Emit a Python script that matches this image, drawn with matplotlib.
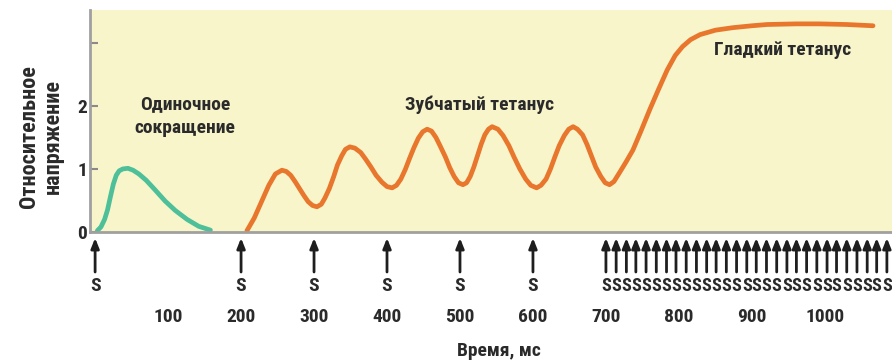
import matplotlib.pyplot as plt
from matplotlib.transforms import blended_transform_factory

# шрифт: узкий жирный, как в оригинале
plt.rcParams['font.family'] = ['Roboto Condensed', 'DejaVu Sans']
plt.rcParams['font.weight'] = 'bold'
plt.rcParams['axes.labelweight'] = 'bold'

# одиночное сокращение (зелёная кривая)
t_single = [3, 8, 13, 17, 21, 25, 29, 33, 38, 45, 52, 60, 70, 82, 96, 110, 126, 142, 158]
v_single = [0.02, 0.08, 0.20, 0.35, 0.56, 0.76, 0.90, 0.97, 1.00, 1.01, 0.98, 0.92, 0.82, 0.67, 0.49, 0.34, 0.20, 0.09, 0.03]

# зубчатый и гладкий тетанус (оранжевая кривая)
t_tet = [208, 218, 228, 238, 247, 256,
         262, 268, 274, 280, 286, 292, 298, 304,
         310, 315, 321, 327, 332, 338, 343, 349,
         356, 364, 371, 378, 385, 393, 400, 407,
         413, 419, 425, 431, 437, 443, 449, 455,
         461, 467, 473, 480, 486, 492, 498, 504,
         509, 514, 519, 524, 529, 534, 539, 544,
         552, 559, 567, 574, 582, 590, 597, 605,
         611, 618, 624, 630, 636, 643, 649, 655,
         661, 668, 674, 680, 686, 693, 699, 705,
         711, 718, 727, 737, 748, 760, 772, 784, 795, 805, 816, 829,
         850, 874, 900, 921, 960, 993, 1030, 1066]
v_tet = [0.02, 0.22, 0.48, 0.74, 0.92, 0.98,
         0.96, 0.90, 0.80, 0.69, 0.58, 0.48, 0.42, 0.40,
         0.44, 0.54, 0.69, 0.88, 1.06, 1.21, 1.31, 1.35,
         1.33, 1.26, 1.15, 1.03, 0.90, 0.79, 0.72, 0.70,
         0.74, 0.84, 0.99, 1.17, 1.34, 1.49, 1.59, 1.63,
         1.60, 1.50, 1.36, 1.19, 1.02, 0.88, 0.78, 0.75,
         0.78, 0.88, 1.03, 1.21, 1.39, 1.54, 1.63, 1.67,
         1.63, 1.53, 1.37, 1.19, 1.00, 0.84, 0.74, 0.70,
         0.74, 0.84, 1.00, 1.19, 1.37, 1.53, 1.63, 1.67,
         1.63, 1.54, 1.39, 1.21, 1.03, 0.88, 0.78, 0.75,
         0.80, 0.93, 1.10, 1.30, 1.60, 1.94, 2.26, 2.57, 2.80, 2.94, 3.05, 3.13,
         3.20, 3.24, 3.27, 3.29, 3.30, 3.30, 3.29, 3.27]

# стимулы
stim_single = [0, 200, 300, 400, 500, 600]
stim_dense = [700, 714, 728, 741, 755, 769, 783, 796, 810, 824, 838, 851, 865, 879, 893,
              906, 920, 934, 948, 961, 975, 989, 1003, 1016, 1030, 1044, 1058, 1071, 1085]

x_ticks = [100, 200, 300, 400, 500, 600, 700, 800, 900, 1000]
y_ticks = [0, 1, 2, 3]
y_labels = ['0', '1', '2', '']

txt = '#2a2a2a'
W, H = 892, 362
fig = plt.figure(figsize=(W / 100, H / 100), dpi=100)
ax = fig.add_axes([90 / W, 130 / H, 802 / W, 222 / H])
ax.set_facecolor('#F8F5CB')
ax.set_xlim(-7, 1092)
ax.set_ylim(0, 3.52)

for s in ['top', 'right']:
    ax.spines[s].set_visible(False)
for s in ['left', 'bottom']:
    ax.spines[s].set_color('#a0a0a0')
    ax.spines[s].set_linewidth(2)

ax.plot(t_single, v_single, color='#4DBF99', lw=3.4, solid_capstyle='round', clip_on=False)
ax.plot(t_tet, v_tet, color='#E8762C', lw=3.4, solid_capstyle='round', clip_on=False)

ax.set_yticks(y_ticks)
ax.set_yticklabels(y_labels, fontsize=14, color=txt)
ax.tick_params(axis='y', direction='in', length=6, width=1.5, color='#8a8a8a', pad=2)
ax.set_xticks(x_ticks)
ax.set_xticklabels([str(v) for v in x_ticks], fontsize=14, color=txt)
ax.tick_params(axis='x', length=0, pad=55)
ax.set_xlabel('Время, мс', fontsize=14, color=txt, fontweight='bold')
ax.xaxis.set_label_coords((499 - 90) / 802, -(351 - 232) / 222)
ax.xaxis.label.set_va('center')

ax.text(123, 1.84, 'Одиночное\nсокращение', fontsize=14, color=txt, ha='center', va='center',
        linespacing=1.45)
ax.text(527, 2.02, 'Зубчатый тетанус', fontsize=14, color=txt, ha='center', va='center')
ax.text(942, 2.89, 'Гладкий тетанус', fontsize=14, color=txt, ha='center', va='center')

fig.text(41 / W, 1 - 137 / H, 'Относительное\nнапряжение', rotation=90, fontsize=16,
         color=txt, ha='center', va='center', linespacing=1.1)

# стрелки стимулов и буквы S под ними
tr = blended_transform_factory(ax.transData, fig.transFigure)
y_tail, y_head, y_s = 1 - 272 / H, 1 - 238 / H, 1 - 286 / H
for t in stim_single + stim_dense:
    ax.annotate('', xy=(t, y_head), xycoords=tr, xytext=(t, y_tail), textcoords=tr,
                arrowprops=dict(arrowstyle='-|>,head_length=0.6,head_width=0.24',
                                lw=2, color='#1e1e1e', shrinkA=0, shrinkB=0))
for t in stim_single:
    ax.text(t, y_s, 'S', transform=tr, fontsize=14, color=txt, ha='center', va='center')
for t in stim_dense:
    ax.text(t, y_s, 'S', transform=tr, fontsize=13.2, color=txt, ha='center', va='center')

fig.savefig('out.png', dpi=100)
